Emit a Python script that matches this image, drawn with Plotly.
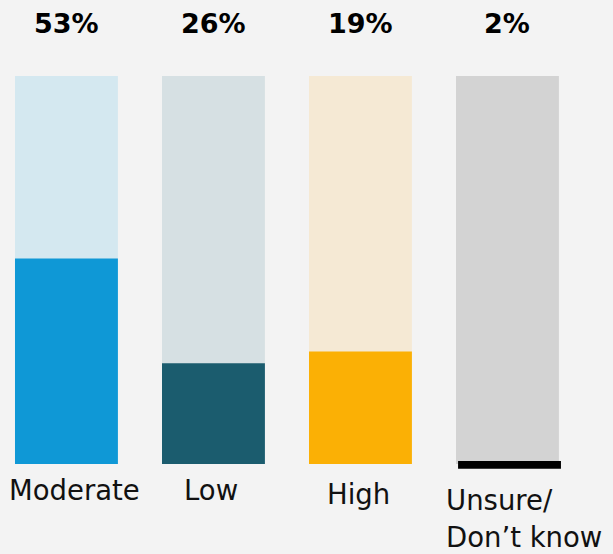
import plotly.graph_objects as go

categories = ["Moderate", "Low", "High", "Unsure/<br>Don’t know"]
pct_labels = ["53%", "26%", "19%", "2%"]
bar_values = [53, 26, 29, 2]          # drawn heights
bg_values = [100, 100, 100, 100]
fg_colors = ["#0f98d6", "#1b5c6e", "#fbb005", "#000000"]
bg_colors = ["#d4e8f0", "#d6e0e3", "#f5e9d4", "#d3d3d3"]

FONT = "DejaVu Sans"
W = 0.70

fig = go.Figure()
fig.add_trace(go.Bar(x=categories, y=bg_values, marker=dict(color=bg_colors, line=dict(width=0)),
                     width=W, hoverinfo="skip", showlegend=False))
fig.add_trace(go.Bar(x=categories[:3], y=bar_values[:3], marker=dict(color=fg_colors[:3], line=dict(width=0)),
                     width=W, hoverinfo="skip", showlegend=False))
# small black bar for "Unsure", slightly offset as in the reference
fig.add_trace(go.Bar(x=categories[3:], y=bar_values[3:], base=[-1.2],
                     marker=dict(color=fg_colors[3:], line=dict(width=0)),
                     width=W, offset=-W / 2 + 0.014, hoverinfo="skip", showlegend=False))

for c, t in zip(categories, pct_labels):
    fig.add_annotation(x=c, y=113.5, text="<b>%s</b>" % t, showarrow=False,
                       font=dict(family=FONT, size=27, color="#000000"), xanchor="center", yanchor="middle")

label_shift = [8, -2, -1.5]
label_y = [-6.7, -6.7, -7.7]
for c, dx, yy in zip(categories[:3], label_shift, label_y):
    fig.add_annotation(x=c, y=yy, text=c, showarrow=False, xshift=dx,
                       font=dict(family=FONT, size=27.5, color="#111111"),
                       xanchor="center", yanchor="middle")
# two-line label, each line placed separately
for i, line in enumerate(categories[3].split("<br>")):
    fig.add_annotation(x=categories[3], y=-9.3 - 9.5 * i, text=line, showarrow=False, xshift=-63,
                       font=dict(family=FONT, size=27.5, color="#111111"),
                       xanchor="left", yanchor="middle")

fig.update_layout(
    width=613, height=554,
    margin=dict(l=0, r=0, t=0, b=0),
    paper_bgcolor="#f3f3f3", plot_bgcolor="#f3f3f3",
    barmode="overlay",
    xaxis=dict(range=[-0.452, 3.718], showticklabels=False, showgrid=False, zeroline=False, showline=False),
    yaxis=dict(range=[-23.2, 119.6], showticklabels=False, showgrid=False, zeroline=False, showline=False),
)
fig.write_html("out.html")
